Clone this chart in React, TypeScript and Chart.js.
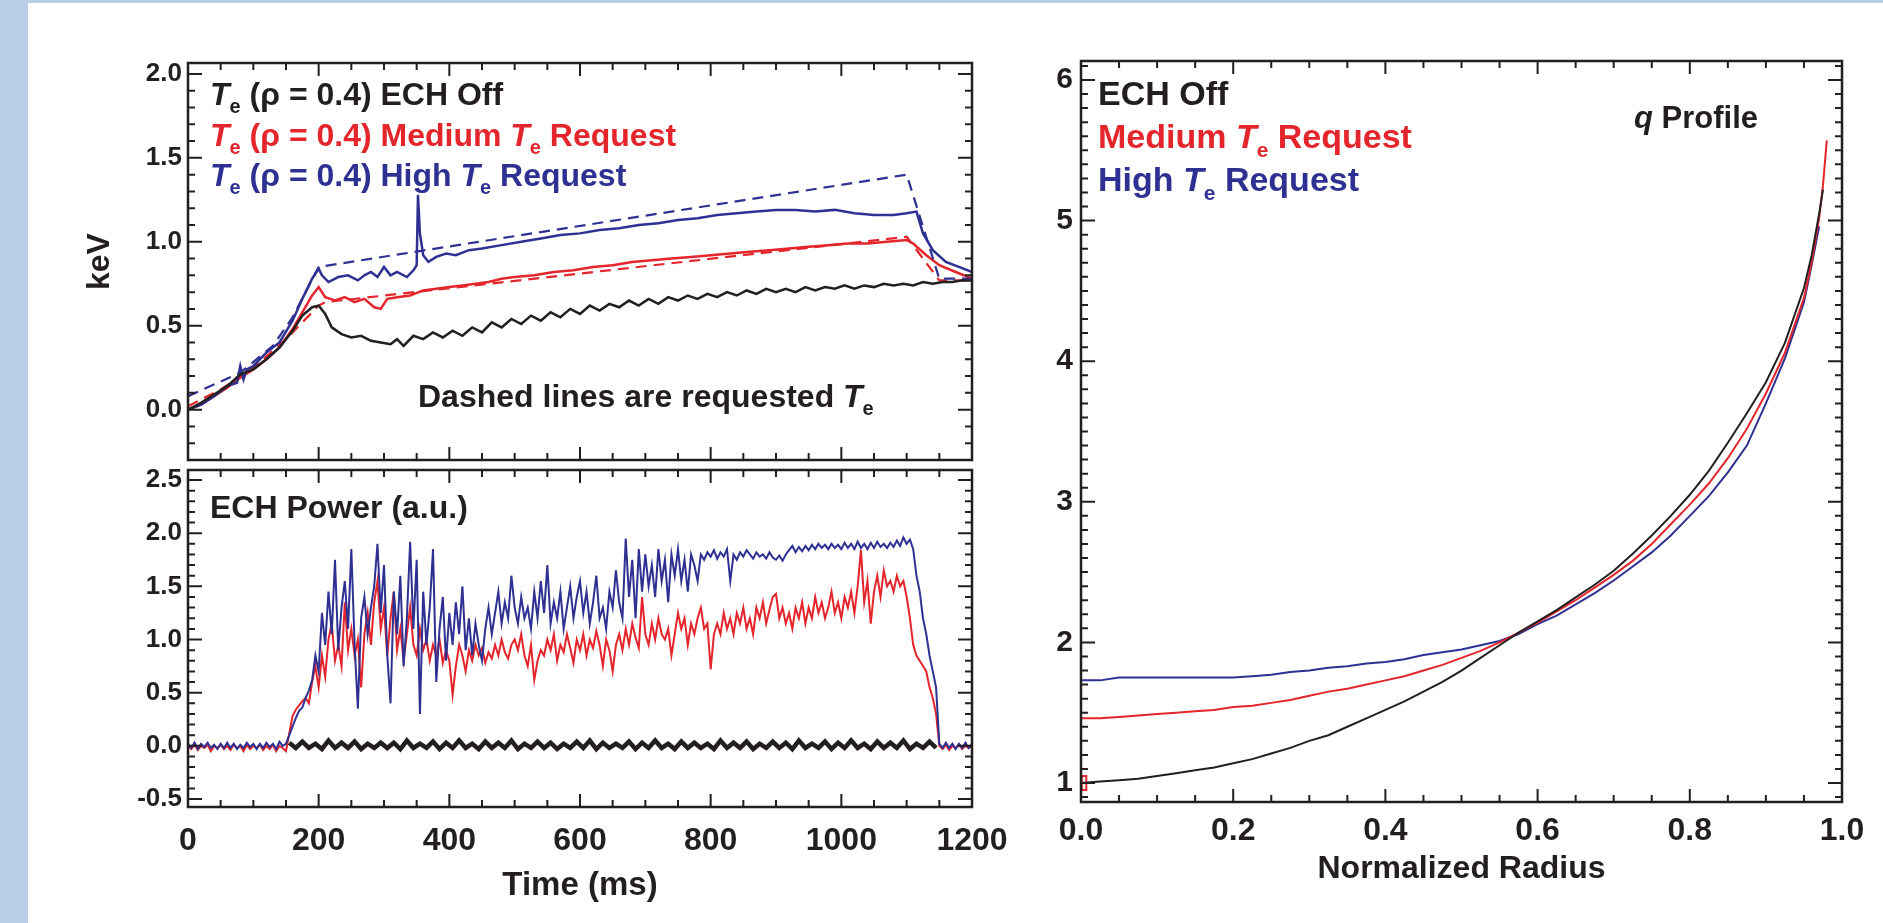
import { useEffect, useRef } from 'react';
import { Chart, registerables } from 'chart.js';

Chart.register(...registerables);

const FONT = "'Liberation Sans', Arial, Helvetica, sans-serif";
const INK = '#231f20';
const RED = '#e4262c';
const BLUE = '#2e3192';
const STRIPE = '#bacee9';

// ---------- Top-left panel: Te at rho = 0.4 (keV) vs time (ms) ----------
const teOffTime = [0, 20, 40, 60, 80, 100, 120, 140, 160, 175, 190, 200, 210, 220, 235, 250, 265, 280, 295, 310, 320, 330, 345, 360, 375, 390, 405, 420, 435, 450, 465, 480, 495, 510, 525, 540, 555, 570, 585, 600, 615, 630, 645, 660, 675, 690, 705, 720, 735, 750, 765, 780, 795, 810, 825, 840, 855, 870, 885, 900, 915, 930, 945, 960, 975, 990, 1005, 1020, 1035, 1050, 1065, 1080, 1095, 1110, 1125, 1140, 1155, 1170, 1185, 1200];
const teOff = [0.0, 0.04, 0.09, 0.14, 0.21, 0.24, 0.30, 0.37, 0.47, 0.56, 0.61, 0.62, 0.57, 0.49, 0.45, 0.43, 0.44, 0.41, 0.40, 0.39, 0.42, 0.38, 0.44, 0.42, 0.46, 0.43, 0.47, 0.44, 0.49, 0.46, 0.52, 0.49, 0.54, 0.51, 0.56, 0.53, 0.58, 0.55, 0.60, 0.57, 0.62, 0.59, 0.63, 0.61, 0.65, 0.62, 0.66, 0.63, 0.67, 0.65, 0.68, 0.66, 0.69, 0.67, 0.70, 0.68, 0.71, 0.69, 0.72, 0.70, 0.72, 0.70, 0.73, 0.71, 0.73, 0.72, 0.74, 0.72, 0.74, 0.73, 0.75, 0.74, 0.75, 0.74, 0.76, 0.75, 0.76, 0.76, 0.77, 0.77];

const teMedTime = [0, 20, 40, 60, 80, 100, 120, 140, 160, 175, 190, 200, 210, 225, 240, 255, 270, 285, 295, 305, 320, 340, 360, 380, 400, 420, 440, 460, 480, 500, 530, 560, 590, 620, 650, 680, 710, 740, 770, 800, 830, 860, 890, 920, 950, 980, 1010, 1040, 1070, 1100, 1110, 1130, 1150, 1175, 1200];
const teMed = [0.0, 0.03, 0.08, 0.13, 0.19, 0.24, 0.30, 0.37, 0.48, 0.58, 0.68, 0.73, 0.67, 0.65, 0.67, 0.64, 0.66, 0.61, 0.60, 0.66, 0.67, 0.68, 0.71, 0.72, 0.73, 0.74, 0.75, 0.76, 0.78, 0.79, 0.80, 0.82, 0.83, 0.85, 0.86, 0.88, 0.89, 0.90, 0.91, 0.92, 0.93, 0.94, 0.95, 0.96, 0.97, 0.98, 0.99, 0.99, 1.00, 1.01, 0.99, 0.92, 0.86, 0.82, 0.78];

const teHighTime = [0, 20, 40, 60, 75, 80, 85, 90, 100, 120, 140, 160, 175, 190, 200, 205, 215, 230, 245, 260, 270, 280, 290, 300, 310, 320, 335, 345, 350, 352, 355, 360, 368, 380, 395, 410, 430, 450, 480, 510, 540, 570, 600, 630, 660, 690, 720, 750, 780, 810, 840, 870, 900, 930, 960, 990, 1020, 1050, 1080, 1100, 1115, 1125, 1140, 1160, 1180, 1200];
const teHigh = [0.0, 0.03, 0.08, 0.14, 0.16, 0.26, 0.18, 0.24, 0.26, 0.34, 0.40, 0.53, 0.66, 0.78, 0.84, 0.80, 0.76, 0.79, 0.80, 0.77, 0.80, 0.82, 0.79, 0.85, 0.80, 0.82, 0.79, 0.83, 0.86, 1.28, 1.05, 0.92, 0.88, 0.91, 0.93, 0.92, 0.95, 0.96, 0.98, 1.00, 1.02, 1.04, 1.05, 1.07, 1.08, 1.10, 1.11, 1.13, 1.14, 1.16, 1.17, 1.18, 1.19, 1.19, 1.18, 1.19, 1.17, 1.16, 1.16, 1.17, 1.18, 1.05, 0.95, 0.88, 0.85, 0.82];

const reqMedTime = [0, 50, 100, 150, 175, 200, 210, 1100, 1150, 1200];
const reqMed = [0.02, 0.12, 0.25, 0.42, 0.52, 0.62, 0.64, 1.03, 0.77, 0.77];

const reqHighTime = [0, 80, 130, 160, 180, 200, 1100, 1150, 1200];
const reqHigh = [0.08, 0.22, 0.38, 0.55, 0.70, 0.85, 1.40, 0.78, 0.78];

// ---------- Lower-left panel: ECH power (a.u.), sampled every 5 ms from 0 ms ----------
const POWER_T0 = 0;
const POWER_DT = 5;
const powerHigh = [
  0.02, -0.02, 0.03, -0.03, 0.02, -0.01, 0.03, -0.02, 0.01, -0.03,
  0.02, -0.02, 0.03, -0.02, 0.02, -0.03, 0.01, -0.02, 0.03, -0.01,
  0.02, -0.03, 0.02, -0.02, 0.03, -0.01, 0.02, -0.03, 0.04, 0.0,
  0.02, 0.10, 0.18, 0.26, 0.33, 0.36, 0.45, 0.52, 0.62, 0.85,
  0.70, 1.25, 0.95, 1.45, 1.05, 1.75, 0.90, 1.30, 1.55, 1.10, 1.85, 0.95, 0.35, 1.20, 1.40, 1.05, 1.30, 1.50, 1.90, 1.25,
  1.70, 0.85, 0.40, 1.45, 1.05, 1.60, 0.75, 1.20, 1.92, 1.10, 1.75, 0.30, 1.45, 0.95, 1.30, 1.85, 0.60, 1.10, 1.40, 0.80,
  1.25, 0.95, 1.35, 1.05, 1.50, 0.90, 1.20, 0.85, 1.15, 0.95, 0.80, 1.10, 1.30, 1.05, 1.25, 1.45, 1.15, 1.35, 1.20, 1.60,
  1.30, 1.15, 1.40, 1.20, 1.30, 1.10, 1.45, 1.20, 1.55, 1.25, 1.70, 1.15, 1.35, 1.20, 1.45, 1.10, 1.30, 1.50, 1.20, 1.40,
  1.55, 1.25, 1.45, 1.15, 1.35, 1.60, 1.20, 1.30, 1.10, 1.45, 1.30, 1.65, 1.35, 1.20, 1.95, 1.40, 1.75, 1.20, 1.85, 1.45,
  1.80, 1.50, 1.70, 1.40, 1.85, 1.55, 1.75, 1.35, 1.80, 1.60, 1.85, 1.55, 1.75, 1.45, 1.80, 1.70, 1.55, 1.80, 1.75, 1.82,
  1.78, 1.84, 1.76, 1.82, 1.78, 1.85, 1.55, 1.80, 1.75, 1.82, 1.78, 1.84, 1.80, 1.76, 1.82, 1.78, 1.80, 1.76, 1.82, 1.77,
  1.75, 1.79, 1.74, 1.80, 1.84, 1.88, 1.82, 1.87, 1.83, 1.88, 1.84, 1.89, 1.85, 1.90, 1.86, 1.89, 1.85, 1.90, 1.86, 1.89,
  1.85, 1.91, 1.86, 1.90, 1.85, 1.92, 1.86, 1.90, 1.85, 1.91, 1.86, 1.92, 1.87, 1.90, 1.86, 1.91, 1.87, 1.93, 1.88, 1.96,
  1.90, 1.94, 1.85, 1.60, 1.45, 1.20, 1.05, 0.85, 0.70, 0.55, 0.02, -0.02, 0.03, -0.02, 0.02, -0.03, 0.02, -0.02, 0.03, -0.02,
  0.02,
];
const powerMed = [
  0.0, -0.03, 0.01, -0.04, 0.0, -0.02, 0.01, -0.05, 0.0, -0.02,
  0.01, -0.03, 0.0, -0.04, 0.01, -0.02, 0.0, -0.05, 0.01, -0.03,
  0.0, -0.02, 0.01, -0.04, 0.0, -0.03, 0.01, -0.05, 0.0, -0.02,
  -0.05, 0.12, 0.28, 0.34, 0.38, 0.42, 0.45, 0.40, 0.60, 0.75,
  0.55, 0.85, 0.65, 1.00, 1.15, 0.80, 0.95, 0.75, 1.35, 0.90, 1.10, 0.85, 1.00, 0.55, 1.05, 1.25, 0.95, 1.35, 1.55, 1.10,
  1.30, 0.85, 1.20, 1.45, 0.90, 1.10, 0.80, 1.05, 1.30, 0.95, 0.85, 1.10, 0.90, 1.00, 0.80, 0.95, 0.85, 1.00, 0.78, 0.90,
  0.80, 0.48, 0.75, 0.95, 0.85, 0.70, 0.90, 0.80, 0.95, 0.85, 0.92, 0.78, 0.88, 0.82, 0.95, 0.85, 1.00, 0.88, 0.82, 0.95,
  1.00, 0.90, 1.05, 0.85, 0.75, 0.95, 0.62, 0.80, 0.90, 0.85, 1.00, 0.90, 1.05, 0.80, 0.95, 0.88, 1.05, 0.92, 0.78, 1.00,
  0.90, 1.05, 0.85, 1.00, 0.92, 1.08, 0.95, 0.75, 1.00, 0.90, 0.70, 0.95, 1.05, 0.90, 1.10, 0.95, 1.15, 1.02, 0.92, 1.40,
  1.05, 0.95, 1.15, 1.00, 1.20, 1.05, 1.00, 1.10, 0.85, 1.05, 1.25, 1.10, 1.20, 0.95, 1.15, 1.05, 1.20, 1.30, 1.10, 1.15,
  0.72, 1.05, 1.15, 1.05, 1.25, 1.10, 1.20, 1.05, 1.25, 1.15, 1.30, 1.10, 1.20, 1.05, 1.30, 1.20, 1.35, 1.15, 1.28, 1.40,
  1.43, 1.20, 1.30, 1.15, 1.25, 1.10, 1.30, 1.20, 1.35, 1.15, 1.30, 1.20, 1.40, 1.25, 1.35, 1.20, 1.30, 1.45, 1.25, 1.35,
  1.20, 1.40, 1.30, 1.45, 1.25, 1.50, 1.84, 1.35, 1.55, 1.15, 1.45, 1.60, 1.40, 1.65, 1.50, 1.55, 1.45, 1.60, 1.50, 1.55,
  1.40, 1.20, 0.95, 0.85, 0.80, 0.75, 0.70, 0.55, 0.45, 0.30, 0.0, -0.03, 0.01, -0.04, 0.0, -0.02, 0.01, -0.03, 0.0, -0.02,
  0.0,
];
// ECH off: sampled every 10 ms from 155 ms to 1145 ms
const OFF_T0 = 155;
const OFF_DT = 10;
const powerOff = [
  0.03, -0.02, 0.04, -0.02, 0.02, -0.03, 0.05, -0.02, 0.03, -0.02,
  0.04, -0.03, 0.02, -0.02, 0.03, -0.02, 0.03, -0.03, 0.05, -0.02,
  0.02, -0.02, 0.04, -0.03, 0.03, -0.02, 0.05, -0.02, 0.02, -0.03,
  0.04, -0.02, 0.03, -0.02, 0.05, -0.03, 0.02, -0.02, 0.04, -0.02,
  0.03, -0.03, 0.02, -0.02, 0.04, -0.02, 0.05, -0.03, 0.03, -0.02,
  0.02, -0.02, 0.04, -0.03, 0.03, -0.02, 0.05, -0.02, 0.02, -0.03,
  0.04, -0.02, 0.03, -0.02, 0.02, -0.03, 0.05, -0.02, 0.03, -0.02,
  0.04, -0.03, 0.02, -0.02, 0.04, -0.02, 0.03, -0.03, 0.05, -0.02,
  0.02, -0.02, 0.04, -0.03, 0.03, -0.02, 0.05, -0.02, 0.02, -0.03,
  0.04, -0.02, 0.03, -0.02, 0.05, -0.03, 0.02, -0.02, 0.04, -0.02,
];

// ---------- Right panel: q profile vs normalized radius ----------
const qOffR = [0, 0.025, 0.05, 0.075, 0.1, 0.125, 0.15, 0.175, 0.2, 0.225, 0.25, 0.275, 0.3, 0.325, 0.35, 0.375, 0.4, 0.425, 0.45, 0.475, 0.5, 0.525, 0.55, 0.575, 0.6, 0.625, 0.65, 0.675, 0.7, 0.725, 0.75, 0.775, 0.8, 0.825, 0.85, 0.875, 0.9, 0.925, 0.95, 0.96, 0.97, 0.975];
const qOff = [1.00, 1.01, 1.02, 1.03, 1.05, 1.07, 1.09, 1.11, 1.14, 1.17, 1.21, 1.25, 1.30, 1.34, 1.40, 1.46, 1.52, 1.58, 1.65, 1.72, 1.80, 1.89, 1.98, 2.07, 2.15, 2.23, 2.32, 2.41, 2.51, 2.63, 2.76, 2.90, 3.05, 3.22, 3.42, 3.63, 3.85, 4.13, 4.52, 4.75, 5.05, 5.22];
const qMedR = [0, 0.025, 0.05, 0.075, 0.1, 0.125, 0.15, 0.175, 0.2, 0.225, 0.25, 0.275, 0.3, 0.325, 0.35, 0.375, 0.4, 0.425, 0.45, 0.475, 0.5, 0.525, 0.55, 0.575, 0.6, 0.625, 0.65, 0.675, 0.7, 0.725, 0.75, 0.775, 0.8, 0.825, 0.85, 0.875, 0.9, 0.925, 0.95, 0.96, 0.97, 0.975, 0.98];
const qMed = [1.46, 1.46, 1.47, 1.48, 1.49, 1.50, 1.51, 1.52, 1.54, 1.55, 1.57, 1.59, 1.62, 1.65, 1.67, 1.70, 1.73, 1.76, 1.80, 1.84, 1.89, 1.94, 2.00, 2.07, 2.14, 2.22, 2.30, 2.39, 2.48, 2.58, 2.70, 2.84, 2.98, 3.13, 3.31, 3.52, 3.77, 4.06, 4.45, 4.70, 5.02, 5.25, 5.57];
const qHighR = [0, 0.025, 0.05, 0.075, 0.1, 0.125, 0.15, 0.175, 0.2, 0.225, 0.25, 0.275, 0.3, 0.325, 0.35, 0.375, 0.4, 0.425, 0.45, 0.475, 0.5, 0.525, 0.55, 0.575, 0.6, 0.625, 0.65, 0.675, 0.7, 0.725, 0.75, 0.775, 0.8, 0.825, 0.85, 0.875, 0.9, 0.925, 0.95, 0.96, 0.97];
const qHigh = [1.73, 1.73, 1.75, 1.75, 1.75, 1.75, 1.75, 1.75, 1.75, 1.76, 1.77, 1.79, 1.80, 1.82, 1.83, 1.85, 1.86, 1.88, 1.91, 1.93, 1.95, 1.98, 2.01, 2.06, 2.13, 2.19, 2.27, 2.35, 2.44, 2.54, 2.64, 2.76, 2.90, 3.04, 3.21, 3.40, 3.70, 4.02, 4.42, 4.68, 4.96];
// small red mark drawn at the magnetic axis (r ≈ 0, q ≈ 1)
const qAxisMarkR = [0.001, 0.007, 0.007, 0.001, 0.001];
const qAxisMark = [0.95, 0.95, 1.05, 1.05, 0.95];

// ---------- helpers ----------
const pairs = (xs: number[], ys: number[]) => ys.map((y, i) => ({ x: xs[i], y }));
const sampled = (t0: number, dt: number, ys: number[]) => ys.map((y, i) => ({ x: t0 + i * dt, y }));

type Run = { t: string; it?: boolean; sub?: boolean };
type TextItem = { x: number; y: number; color: string; size: number; runs: Run[] };

function textPlugin(items: TextItem[]) {
  return {
    id: 'richText',
    afterDraw(chart: any) {
      const ctx: CanvasRenderingContext2D = chart.ctx;
      ctx.save();
      ctx.textBaseline = 'alphabetic';
      ctx.textAlign = 'left';
      for (const item of items) {
        let x = item.x;
        for (const r of item.runs) {
          const size = r.sub ? Math.round(item.size * 0.62) : item.size;
          ctx.font = `${r.it ? 'italic ' : ''}bold ${size}px ${FONT}`;
          ctx.fillStyle = item.color;
          ctx.fillText(r.t, x, item.y + (r.sub ? item.size * 0.26 : 0));
          x += ctx.measureText(r.t).width;
        }
      }
      ctx.restore();
    },
  };
}

function framePlugin(o: { xMinor: number; xMajor: number; yMinor: number; yMajor: number }) {
  return {
    id: 'frameTicks',
    afterDatasetsDraw(chart: any) {
      const ctx: CanvasRenderingContext2D = chart.ctx;
      const a = chart.chartArea;
      const xs = chart.scales.x;
      const ys = chart.scales.y;
      const isMajor = (v: number, m: number) => Math.abs(v / m - Math.round(v / m)) < 1e-6;
      ctx.save();
      ctx.strokeStyle = INK;
      ctx.lineWidth = 2;
      ctx.beginPath();
      for (let i = Math.ceil(xs.min / o.xMinor - 1e-9); i <= Math.floor(xs.max / o.xMinor + 1e-9); i++) {
        const v = i * o.xMinor;
        const len = isMajor(v, o.xMajor) ? 13 : 7;
        const p = xs.getPixelForValue(v);
        ctx.moveTo(p, a.bottom); ctx.lineTo(p, a.bottom - len);
        ctx.moveTo(p, a.top); ctx.lineTo(p, a.top + len);
      }
      for (let i = Math.ceil(ys.min / o.yMinor - 1e-9); i <= Math.floor(ys.max / o.yMinor + 1e-9); i++) {
        const v = i * o.yMinor;
        const len = isMajor(v, o.yMajor) ? 14 : 7;
        const p = ys.getPixelForValue(v);
        ctx.moveTo(a.left, p); ctx.lineTo(a.left + len, p);
        ctx.moveTo(a.right, p); ctx.lineTo(a.right - len, p);
      }
      ctx.stroke();
      ctx.lineWidth = 2.5;
      ctx.strokeRect(a.left, a.top, a.right - a.left, a.bottom - a.top);
      ctx.restore();
    },
  };
}

const hiddenGrid = { display: false, drawTicks: false };
const noBorder = { display: false };
const tickFont = (size: number) => ({ family: FONT, size, weight: 'bold' as const, lineHeight: 1 });

const Te = (): Run[] => [{ t: 'T', it: true }, { t: 'e', sub: true }];

function configTe(): any {
  return {
    type: 'line',
    data: {
      datasets: [
        { label: 'ECH Off', data: pairs(teOffTime, teOff), borderColor: INK, borderWidth: 2.5 },
        { label: 'High Te Request', data: pairs(teHighTime, teHigh), borderColor: BLUE, borderWidth: 2.5 },
        { label: 'High Te requested', data: pairs(reqHighTime, reqHigh), borderColor: BLUE, borderWidth: 2.2, borderDash: [11, 7] },
        { label: 'Medium Te Request', data: pairs(teMedTime, teMed), borderColor: RED, borderWidth: 2.5 },
        { label: 'Medium Te requested', data: pairs(reqMedTime, reqMed), borderColor: RED, borderWidth: 2.2, borderDash: [11, 7] },
      ],
    },
    options: {
      animation: false,
      responsive: false,
      devicePixelRatio: 1,
      elements: { point: { radius: 0 }, line: { tension: 0 } },
      layout: { padding: { left: 0, top: 63, right: 911, bottom: 463 } },
      plugins: { legend: { display: false }, tooltip: { enabled: false } },
      scales: {
        x: { type: 'linear', display: false, min: 0, max: 1200 },
        y: {
          type: 'linear', min: -0.3, max: 2.065,
          afterFit: (s: any) => { s.width = 188; },
          grid: hiddenGrid, border: noBorder,
          ticks: { stepSize: 0.5, includeBounds: false, padding: 6, color: INK, font: tickFont(26), callback: (v: any) => Number(v).toFixed(1) },
          title: { display: true, text: 'keV', color: INK, font: tickFont(32), padding: { top: 84, bottom: 0 } },
        },
      },
    },
    plugins: [
      framePlugin({ xMinor: 50, xMajor: 200, yMinor: 0.1, yMajor: 0.5 }),
      textPlugin([
        { x: 210, y: 105, color: INK, size: 32, runs: [...Te(), { t: ' (ρ = 0.4) ECH Off' }] },
        { x: 210, y: 146, color: RED, size: 32, runs: [...Te(), { t: ' (ρ = 0.4) Medium ' }, ...Te(), { t: ' Request' }] },
        { x: 210, y: 186, color: BLUE, size: 32, runs: [...Te(), { t: ' (ρ = 0.4) High ' }, ...Te(), { t: ' Request' }] },
        { x: 418, y: 407, color: INK, size: 32, runs: [{ t: 'Dashed lines are requested ' }, ...Te()] },
      ]),
    ],
  };
}

function configPower(): any {
  return {
    type: 'line',
    data: {
      datasets: [
        { label: 'ECH Off', data: sampled(OFF_T0, OFF_DT, powerOff), borderColor: INK, borderWidth: 4.5 },
        { label: 'High Te Request', data: sampled(POWER_T0, POWER_DT, powerHigh), borderColor: BLUE, borderWidth: 2 },
        { label: 'Medium Te Request', data: sampled(POWER_T0, POWER_DT, powerMed), borderColor: RED, borderWidth: 2 },
      ],
    },
    options: {
      animation: false,
      responsive: false,
      devicePixelRatio: 1,
      elements: { point: { radius: 0 }, line: { tension: 0 } },
      layout: { padding: { left: 0, top: 470, right: 911, bottom: 16 } },
      plugins: { legend: { display: false }, tooltip: { enabled: false } },
      scales: {
        x: {
          type: 'linear', min: 0, max: 1200,
          afterFit: (s: any) => { s.height = 100; },
          grid: hiddenGrid, border: noBorder,
          ticks: { stepSize: 200, includeBounds: false, padding: 18, color: INK, font: tickFont(32), maxRotation: 0, autoSkip: false, callback: (v: any) => String(v) },
          title: { display: true, text: 'Time (ms)', color: INK, font: tickFont(33), padding: { top: 0, bottom: 5 } },
        },
        y: {
          type: 'linear', min: -0.575, max: 2.594,
          afterFit: (s: any) => { s.width = 188; },
          grid: hiddenGrid, border: noBorder,
          ticks: { stepSize: 0.5, includeBounds: false, padding: 6, color: INK, font: tickFont(26), callback: (v: any) => Number(v).toFixed(1) },
        },
      },
    },
    plugins: [
      framePlugin({ xMinor: 50, xMajor: 200, yMinor: 0.1, yMajor: 0.5 }),
      textPlugin([{ x: 210, y: 518, color: INK, size: 32, runs: [{ t: 'ECH Power (a.u.)' }] }]),
    ],
  };
}

function configQ(): any {
  return {
    type: 'line',
    data: {
      datasets: [
        { label: 'ECH Off', data: pairs(qOffR, qOff), borderColor: INK, borderWidth: 2 },
        { label: 'Medium Te Request', data: pairs(qMedR, qMed), borderColor: RED, borderWidth: 2 },
        { label: 'High Te Request', data: pairs(qHighR, qHigh), borderColor: BLUE, borderWidth: 2 },
        { label: 'Medium Te axis', data: pairs(qAxisMarkR, qAxisMark), borderColor: RED, borderWidth: 2 },
      ],
    },
    options: {
      animation: false,
      responsive: false,
      devicePixelRatio: 1,
      elements: { point: { radius: 0 }, line: { tension: 0 } },
      layout: { padding: { left: 0, top: 61, right: 41, bottom: 21 } },
      plugins: { legend: { display: false }, tooltip: { enabled: false } },
      scales: {
        x: {
          type: 'linear', min: 0, max: 1,
          afterFit: (s: any) => { s.height = 100; },
          grid: hiddenGrid, border: noBorder,
          ticks: { stepSize: 0.2, includeBounds: false, padding: 13, color: INK, font: tickFont(32), maxRotation: 0, autoSkip: false, callback: (v: any) => Number(v).toFixed(1) },
          title: { display: true, text: 'Normalized Radius', color: INK, font: tickFont(32), padding: { top: 0, bottom: 17 } },
        },
        y: {
          type: 'linear', min: 0.865, max: 6.135,
          afterFit: (s: any) => { s.width = 1081; },
          grid: hiddenGrid, border: noBorder,
          ticks: { stepSize: 1, includeBounds: false, padding: 8, color: INK, font: tickFont(30), callback: (v: any) => Number(v).toFixed(0) },
        },
      },
    },
    plugins: [
      framePlugin({ xMinor: 0.05, xMajor: 0.2, yMinor: 0.1, yMajor: 1 }),
      textPlugin([
        { x: 1098, y: 105, color: INK, size: 34, runs: [{ t: 'ECH Off' }] },
        { x: 1098, y: 148, color: RED, size: 34, runs: [{ t: 'Medium ' }, ...Te(), { t: ' Request' }] },
        { x: 1098, y: 191, color: BLUE, size: 34, runs: [{ t: 'High ' }, ...Te(), { t: ' Request' }] },
        { x: 1634, y: 128, color: INK, size: 31, runs: [{ t: 'q', it: true }, { t: ' Profile' }] },
      ]),
    ],
  };
}

export default function App() {
  const refA = useRef<HTMLCanvasElement>(null);
  const refB = useRef<HTMLCanvasElement>(null);
  const refC = useRef<HTMLCanvasElement>(null);

  useEffect(() => {
    document.body.style.margin = '0';
    const charts = [
      new Chart(refA.current as HTMLCanvasElement, configTe()),
      new Chart(refB.current as HTMLCanvasElement, configPower()),
      new Chart(refC.current as HTMLCanvasElement, configQ()),
    ];
    return () => charts.forEach((c) => c.destroy());
  }, []);

  const canvasStyle: React.CSSProperties = { position: 'absolute', left: 0, top: 0, width: 1883, height: 923 };
  return (
    <div style={{ position: 'absolute', left: 0, top: 0, width: 1883, height: 923, background: '#ffffff', overflow: 'hidden' }}>
      <div style={{ position: 'absolute', left: 0, top: 0, width: 28, height: 923, background: STRIPE }} />
      <div style={{ position: 'absolute', left: 0, top: 0, width: 1883, height: 3, background: STRIPE }} />
      <canvas ref={refA} width={1883} height={923} style={canvasStyle} />
      <canvas ref={refB} width={1883} height={923} style={canvasStyle} />
      <canvas ref={refC} width={1883} height={923} style={canvasStyle} />
    </div>
  );
}
